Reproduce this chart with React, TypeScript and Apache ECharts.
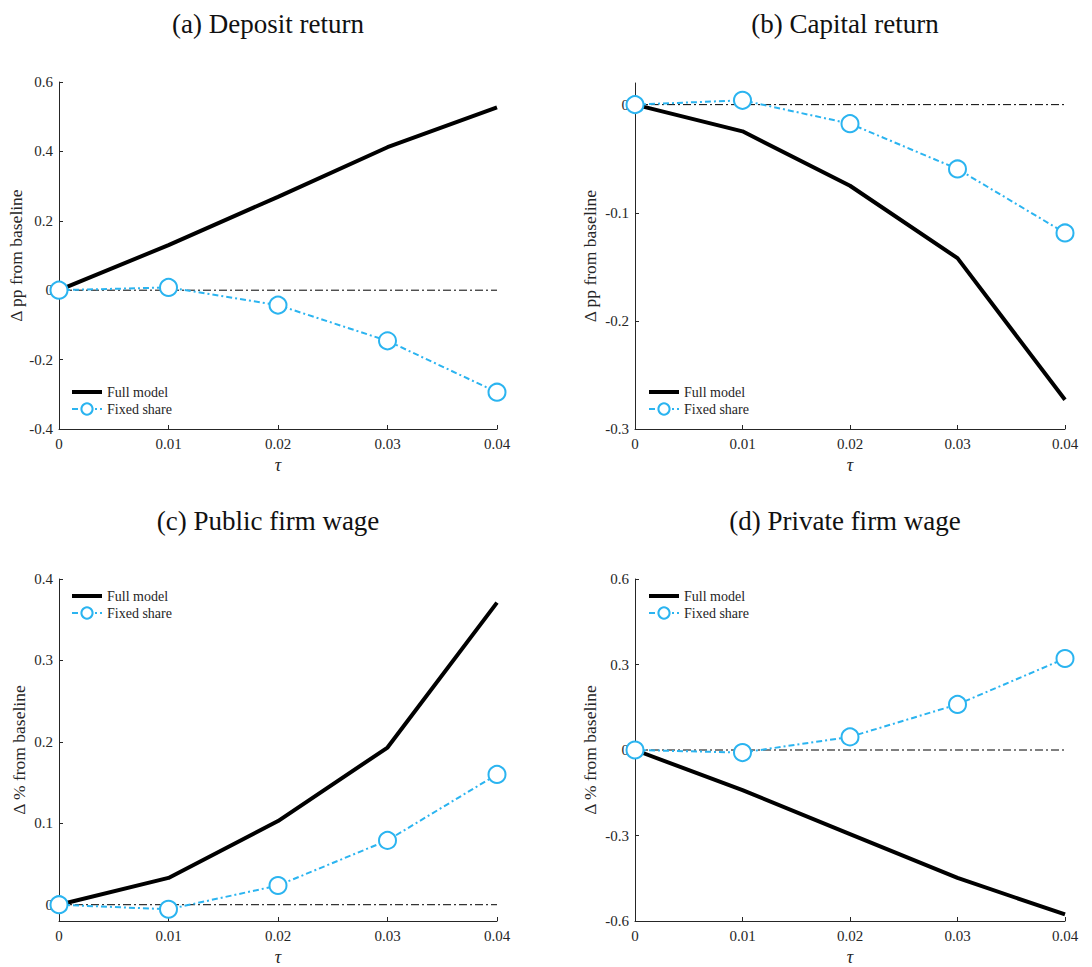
import React, { useEffect, useRef } from "react";
import * as echarts from "echarts";

const tau = [0, 0.01, 0.02, 0.03, 0.04];

const titles = ["(a) Deposit return", "(b) Capital return", "(c) Public firm wage", "(d) Private firm wage"];
const yNames = ["Δ pp from baseline", "Δ pp from baseline", "Δ % from baseline", "Δ % from baseline"];

const fullA = [0, 0.13, 0.269, 0.412, 0.527];
const fixedA = [0, 0.008, -0.043, -0.146, -0.294];
const fullB = [0, -0.0247, -0.075, -0.142, -0.273];
const fixedB = [0, 0.004, -0.0176, -0.0595, -0.1187];
const fullC = [0, 0.0329, 0.1027, 0.193, 0.371];
const fixedC = [0, -0.0056, 0.0236, 0.079, 0.16];
const fullD = [0, -0.141, -0.295, -0.449, -0.577];
const fixedD = [0, -0.009, 0.046, 0.16, 0.321];

const yMin = [-0.4, -0.3, -0.02, -0.6];
const yMax = [0.6, 0.02, 0.4, 0.6];
const yTicksA = [-0.4, -0.2, 0, 0.2, 0.4, 0.6];
const yTicksB = [-0.3, -0.2, -0.1, 0];
const yTicksC = [0, 0.1, 0.2, 0.3, 0.4];
const yTicksD = [-0.6, -0.3, 0, 0.3, 0.6];
const xTicks = [0, 0.01, 0.02, 0.03, 0.04];

const yTicks = [yTicksA, yTicksB, yTicksC, yTicksD];
const fullSeries = [fullA, fullB, fullC, fullD];
const fixedSeries = [fixedA, fixedB, fixedC, fixedD];

const BLUE = "#2bb4f0";
const TXT = "#262626";
const SERIF = "'Liberation Serif', 'Times New Roman', serif";

const grids = [
  { left: 59, top: 82, width: 438, height: 347 },
  { left: 635, top: 83, width: 430, height: 346 },
  { left: 59, top: 579, width: 438, height: 345 },
  { left: 635, top: 579, width: 430, height: 345 },
];
const titlePos = [
  { x: 268, y: 24 },
  { x: 845, y: 24 },
  { x: 268, y: 521 },
  { x: 845, y: 521 },
];
const legendPos = [
  { left: 71, top: 385 },
  { left: 648, top: 385 },
  { left: 71, top: 589 },
  { left: 648, top: 589 },
];
const yNameGap = [31, 36, 31, 36];

export default function App() {
  const ref = useRef<HTMLDivElement>(null);
  useEffect(() => {
    if (!ref.current) return;
    const chart = echarts.init(ref.current, undefined, { renderer: "svg" });
    const series: any[] = [];
    for (let i = 0; i < 4; i++) {
      series.push({
        name: "baseline",
        type: "line",
        xAxisIndex: i,
        yAxisIndex: i,
        data: [
          [tau[0], 0],
          [tau[tau.length - 1], 0],
        ],
        symbol: "none",
        silent: true,
        z: 1,
        lineStyle: { color: "#000", width: 1, type: [8, 3, 2, 3] },
      });
      series.push({
        name: "Full model",
        type: "line",
        xAxisIndex: i,
        yAxisIndex: i,
        data: tau.map((t, k) => [t, fullSeries[i][k]]),
        symbol: "none",
        z: 2,
        itemStyle: { color: "#000" },
        lineStyle: { color: "#000", width: 4 },
      });
      series.push({
        name: "Fixed share",
        type: "line",
        xAxisIndex: i,
        yAxisIndex: i,
        data: tau.map((t, k) => [t, fixedSeries[i][k]]),
        symbol: "emptyCircle",
        symbolSize: 17,
        z: 3,
        itemStyle: { color: BLUE, borderColor: BLUE, borderWidth: 2 },
        lineStyle: { color: BLUE, width: 2, type: [6, 3, 2, 3] },
      });
    }
    const option: any = {
      animation: false,
      backgroundColor: "#fff",
      textStyle: { fontFamily: SERIF },
      grid: grids.map((g) => ({ ...g, containLabel: false })),
      xAxis: grids.map((_, i) => ({
        type: "value",
        gridIndex: i,
        min: 0,
        max: 0.04,
        interval: 0.01,
        name: "τ",
        nameLocation: "middle",
        nameGap: 27,
        nameTextStyle: { fontFamily: SERIF, fontStyle: "italic", fontSize: 18, color: TXT },
        axisLine: { onZero: false, lineStyle: { color: TXT, width: 1 } },
        axisTick: { inside: true, length: 4, lineStyle: { color: TXT }, customValues: xTicks },
        axisLabel: { color: TXT, fontFamily: SERIF, fontSize: 15, margin: 7, customValues: xTicks },
        splitLine: { show: false },
      })),
      yAxis: grids.map((_, i) => ({
        type: "value",
        gridIndex: i,
        min: yMin[i],
        max: yMax[i],
        name: yNames[i],
        nameLocation: "middle",
        nameRotate: 90,
        nameGap: yNameGap[i],
        nameTextStyle: { fontFamily: SERIF, fontSize: 17.5, color: TXT },
        axisLine: { lineStyle: { color: TXT, width: 1 } },
        axisTick: { inside: true, length: 4, lineStyle: { color: TXT }, customValues: yTicks[i] },
        axisLabel: {
          color: TXT,
          fontFamily: SERIF,
          fontSize: 15,
          margin: 6,
          customValues: yTicks[i],
        },
        splitLine: { show: false },
      })),
      legend: legendPos.map((p) => ({
        left: p.left,
        top: p.top,
        orient: "vertical",
        data: [
          { name: "Full model", icon: "path://M0,0 H30 V4 H0 Z", itemStyle: { color: "#000" } },
          { name: "Fixed share" },
        ],
        itemWidth: 30,
        itemHeight: 14,
        itemGap: 3,
        padding: 0,
        selectedMode: false,
        textStyle: { fontFamily: SERIF, fontSize: 14, color: TXT },
      })),
      graphic: titles.map((t, i) => ({
        type: "text",
        x: titlePos[i].x,
        y: titlePos[i].y,
        style: {
          text: t,
          fontFamily: SERIF,
          fontSize: 27,
          fill: "#111",
          textAlign: "center",
          textVerticalAlign: "middle",
        },
      })),
      series,
    };
    chart.setOption(option);
    return () => chart.dispose();
  }, []);
  return (
    <div
      ref={ref}
      style={{ position: "absolute", left: 0, top: 0, width: 1092, height: 967, background: "#fff" }}
    />
  );
}
